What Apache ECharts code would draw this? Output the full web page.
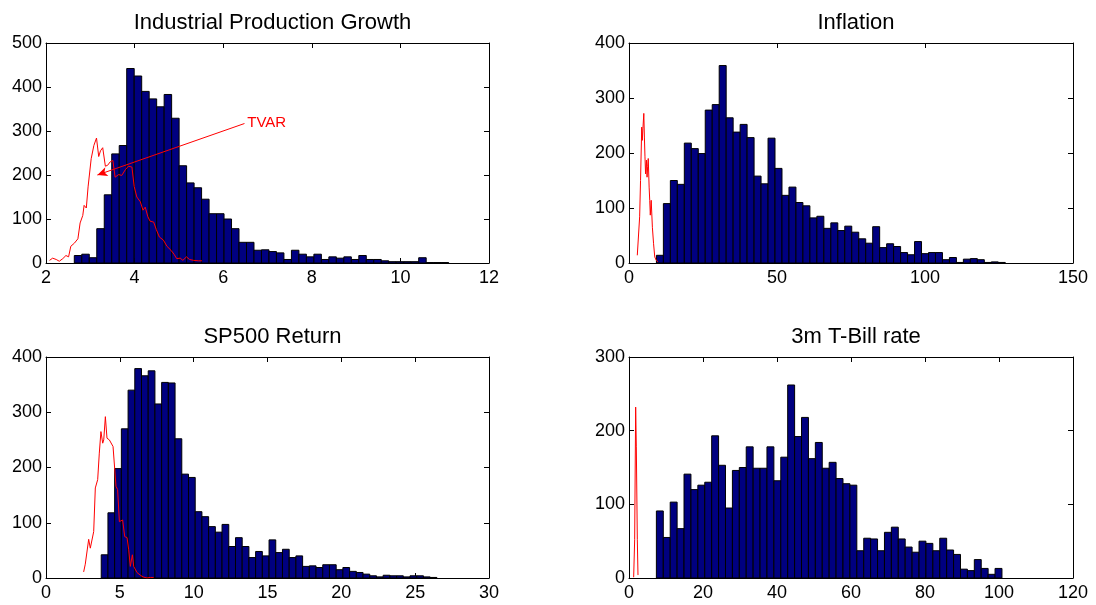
<!DOCTYPE html>
<html>
<head>
<meta charset="utf-8">
<script src="https://cdn.jsdelivr.net/npm/echarts@6/dist/echarts.min.js"></script>
<style>
html, body { margin: 0; padding: 0; background: #fff; }
#container { width: 1096px; height: 605px; }
</style>
</head>
<body>
<div id="container"></div>
<script>
// histogram bins: first edge, bin width, counts
var ipgStart = 2.639, ipgWidth = 0.169;
var ipgCounts = [17, 20, 12, 78, 155, 248, 267, 442, 425, 390,
                 373, 355, 383, 329, 221, 182, 171, 145, 112, 112,
                 100, 78, 47, 47, 29, 30, 26, 23, 8, 29,
                 20, 14, 20, 8, 14, 11, 14, 8, 17, 8,
                 8, 5, 3, 3, 3, 3, 12, 1, 1, 1];

var infStart = 9.26, infWidth = 2.357;
var infCounts = [14, 108, 150, 143, 218, 208, 199, 278, 288, 359,
                 264, 238, 252, 228, 158, 144, 227, 172, 123, 138,
                 110, 104, 82, 85, 63, 73, 59, 67, 56, 44,
                 36, 66, 28, 35, 30, 19, 15, 39, 17, 19,
                 19, 6, 10, 1, 7, 8, 6, 1, 2, 1];

var spStart = 3.74, spWidth = 0.4546;
var spCounts = [42, 118, 198, 270, 340, 379, 366, 375, 315, 354,
                353, 252, 188, 182, 120, 111, 93, 83, 97, 57,
                73, 57, 37, 48, 40, 69, 46, 52, 37, 40,
                21, 22, 19, 24, 24, 15, 19, 12, 10, 7,
                4, 2, 5, 4, 4, 2, 4, 4, 2, 1];

var tbStart = 7.4, tbWidth = 1.868;
var tbCounts = [91, 55, 103, 67, 141, 120, 126, 130, 193, 153,
                95, 146, 150, 178, 149, 149, 178, 132, 164, 262,
                192, 218, 162, 184, 149, 157, 135, 128, 126, 37,
                54, 53, 37, 62, 69, 53, 42, 35, 50, 47,
                37, 54, 38, 32, 12, 10, 25, 13, 5, 13];

// TVAR density lines [x, y]
var tvarIpg = [[2.08, 6], [2.15, 11], [2.23, 8], [2.30, 4], [2.38, 10], [2.45, 17], [2.51, 14],
  [2.56, 38], [2.64, 45], [2.72, 55], [2.77, 91], [2.83, 108], [2.86, 131], [2.91, 125],
  [2.95, 173], [3.02, 237], [3.08, 267], [3.14, 284], [3.19, 242], [3.23, 255], [3.28, 262],
  [3.34, 220], [3.39, 222], [3.45, 230], [3.51, 233], [3.56, 195], [3.64, 201], [3.71, 199],
  [3.79, 212], [3.86, 220], [3.94, 218], [3.99, 174], [4.05, 150], [4.13, 139], [4.19, 120],
  [4.24, 127], [4.30, 105], [4.35, 95], [4.43, 93], [4.49, 76], [4.56, 59], [4.65, 52],
  [4.73, 38], [4.82, 29], [4.89, 20], [4.95, 10], [5.03, 11], [5.09, 6], [5.17, 14],
  [5.24, 8], [5.33, 6], [5.44, 5], [5.52, 5]];

var tvarInf = [[2.8, 14], [3.2, 11], [3.6, 84], [3.9, 150], [4.3, 247], [4.5, 223], [4.7, 244],
  [5.0, 272], [5.2, 229], [5.4, 193], [5.6, 162], [5.9, 187], [6.1, 156], [6.3, 175],
  [6.5, 190], [6.8, 138], [7.0, 114], [7.2, 87], [7.5, 114], [7.9, 65], [8.3, 35],
  [8.7, 11], [9.2, 5], [9.8, 2]];

var tvarSp = [[2.55, 11], [2.66, 25], [2.78, 27], [2.89, 70], [3.00, 54], [3.12, 51], [3.23, 84],
  [3.34, 163], [3.50, 178], [3.61, 226], [3.72, 265], [3.84, 244], [3.91, 250], [4.02, 292],
  [4.13, 253], [4.29, 250], [4.42, 250], [4.54, 238], [4.63, 239], [4.74, 166], [4.85, 160],
  [4.97, 102], [5.08, 105], [5.19, 105], [5.33, 75], [5.49, 73], [5.60, 51], [5.71, 21],
  [5.85, 42], [5.94, 21], [6.05, 18], [6.16, 10], [6.28, 11], [6.39, 5], [6.57, 2],
  [6.68, 4], [6.84, 0], [7.07, 1], [7.29, 1]];

var tvarTb = [[1.26, 1], [1.53, 52], [1.80, 232], [1.98, 178], [2.16, 176], [2.25, 52], [2.43, 4]];

var titles = ['Industrial Production Growth', 'Inflation', 'SP500 Return', '3m T-Bill rate'];
var xRanges = [[2, 12, 2], [0, 150, 50], [0, 30, 5], [0, 120, 20]];
var yRanges = [[0, 500, 100], [0, 400, 100], [0, 400, 100], [0, 300, 100]];

// arrow for the TVAR label: from label to line
var arrowFrom = [6.48, 317], arrowTo = [3.16, 200];

function bins(start, width, counts) {
    var out = [];
    for (var i = 0; i < counts.length; i++) {
        out.push([start + i * width, start + (i + 1) * width, counts[i]]);
    }
    return out;
}

function renderBar(params, api) {
    var p0 = api.coord([api.value(0), api.value(2)]);
    var p1 = api.coord([api.value(1), 0]);
    return {
        type: 'rect',
        shape: { x: p0[0], y: p0[1], width: p1[0] - p0[0], height: p1[1] - p0[1] },
        style: { fill: '#000080', stroke: '#000', lineWidth: 1 }
    };
}

var font = 'Liberation Sans, Arial, sans-serif';
var grids = [
    { left: 46, top: 43, width: 443, height: 220 },
    { left: 629, top: 43, width: 444, height: 220 },
    { left: 46, top: 357, width: 443, height: 221 },
    { left: 629, top: 357, width: 444, height: 221 }
];

var xAxes = [], yAxes = [], titleList = [];
for (var k = 0; k < 4; k++) {
    var common = {
        type: 'value',
        gridIndex: k,
        axisLine: { show: true, onZero: false, lineStyle: { color: '#000', width: 1 } },
        axisTick: { show: true, inside: true, length: 5, lineStyle: { color: '#000' } },
        splitLine: { show: false }
    };
    xAxes.push(Object.assign({}, common, {
        position: 'bottom', min: xRanges[k][0], max: xRanges[k][1], interval: xRanges[k][2],
        axisLabel: { color: '#000', fontSize: 18, fontFamily: font, margin: 6 }
    }));
    yAxes.push(Object.assign({}, common, {
        position: 'left', min: yRanges[k][0], max: yRanges[k][1], interval: yRanges[k][2],
        axisLabel: { color: '#000', fontSize: 18, fontFamily: font, margin: 4 }
    }));
    titleList.push({
        text: titles[k],
        left: grids[k].left + grids[k].width / 2,
        top: k < 2 ? 7 : 321,
        textAlign: 'center',
        textStyle: { color: '#000', fontSize: 22, fontWeight: 'normal', fontFamily: font }
    });
}
for (var k = 0; k < 4; k++) {
    var mirror = {
        type: 'value',
        gridIndex: k,
        axisLine: { show: true, onZero: false, lineStyle: { color: '#000', width: 1 } },
        axisTick: { show: true, inside: true, length: 5, lineStyle: { color: '#000' } },
        axisLabel: { show: false },
        splitLine: { show: false }
    };
    xAxes.push(Object.assign({}, mirror, {
        position: 'top', min: xRanges[k][0], max: xRanges[k][1], interval: xRanges[k][2]
    }));
    yAxes.push(Object.assign({}, mirror, {
        position: 'right', min: yRanges[k][0], max: yRanges[k][1], interval: yRanges[k][2]
    }));
}

var hists = [
    bins(ipgStart, ipgWidth, ipgCounts),
    bins(infStart, infWidth, infCounts),
    bins(spStart, spWidth, spCounts),
    bins(tbStart, tbWidth, tbCounts)
];
var lines = [tvarIpg, tvarInf, tvarSp, tvarTb];

var series = [];
for (var k = 0; k < 4; k++) {
    series.push({
        type: 'custom',
        xAxisIndex: k,
        yAxisIndex: k,
        renderItem: renderBar,
        encode: { x: [0, 1], y: 2 },
        data: hists[k],
        silent: true,
        z: 2
    });
    var s = {
        type: 'line',
        xAxisIndex: k,
        yAxisIndex: k,
        data: lines[k],
        showSymbol: false,
        symbol: 'none',
        lineStyle: { color: '#ff0000', width: 1 },
        itemStyle: { color: '#ff0000' },
        silent: true,
        animation: false,
        z: 3
    };
    if (k === 0) {
        s.markLine = {
            silent: true,
            symbol: ['none', 'arrow'],
            symbolSize: [7, 10],
            lineStyle: { color: '#ff0000', width: 1, type: 'solid' },
            label: {
                show: true,
                position: 'start',
                formatter: 'TVAR',
                color: '#ff0000',
                fontSize: 15,
                fontFamily: font,
                distance: 3
            },
            data: [[{ coord: arrowFrom }, { coord: arrowTo }]]
        };
    }
    series.push(s);
}

var myChart = echarts.init(document.getElementById('container'));
var option = {
    animation: false,
    backgroundColor: '#fff',
    title: titleList,
    grid: grids,
    xAxis: xAxes,
    yAxis: yAxes,
    series: series
};
myChart.setOption(option);
</script>
</body>
</html>
